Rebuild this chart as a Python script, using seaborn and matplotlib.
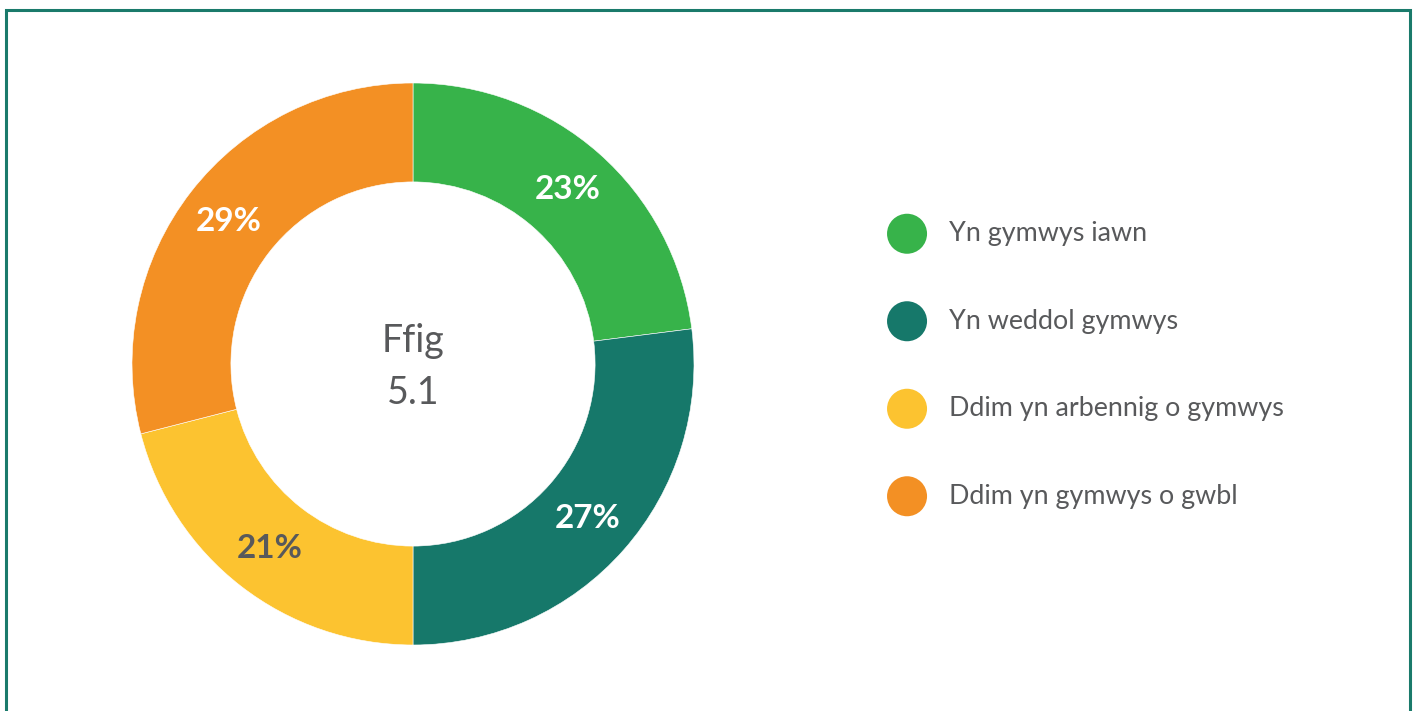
import numpy as np
import pandas as pd
import seaborn as sns
import matplotlib.pyplot as plt
from matplotlib.patches import Rectangle

sns.set_theme(style="white")
plt.rcParams['font.family'] = ['Lato', 'DejaVu Sans']

categories = ['Yn gymwys iawn', 'Yn weddol gymwys',
              'Ddim yn arbennig o gymwys', 'Ddim yn gymwys o gwbl']
values = [23, 27, 21, 29]
colors = ['#37b34a', '#16786a', '#fcc330', '#f39024']
label_colors = ['white', 'white', '#58595b', 'white']
center_text = 'Ffig\n5.1'

df = pd.DataFrame({'category': categories, 'value': values})
palette = sns.color_palette(colors)
grey = '#58595b'

W, H = 1416, 711
fig = plt.figure(figsize=(W / 100, H / 100), dpi=100)

# frame (no bottom edge)
fig.add_artist(Rectangle((6 / W, -0.1), (1410 - 6) / W, (H - 10) / H + 0.1,
                         transform=fig.transFigure, fill=False,
                         edgecolor='#1a7a6b', linewidth=2.2))

# donut
cx, cy, R = 413, 364, 281
ax = fig.add_axes([(cx - R) / W, (H - cy - R) / H, 2 * R / W, 2 * R / H])
wedges, texts, autotexts = ax.pie(df['value'], colors=palette, startangle=90,
                                  counterclock=False, radius=1,
                                  autopct='%.0f%%', pctdistance=0.83,
                                  wedgeprops=dict(width=0.352, edgecolor='white', linewidth=0.4))
for t, c in zip(autotexts, label_colors):
    t.set_color(c)
    t.set_fontsize(24)
    t.set_fontweight('bold')
ax.text(0, -0.01, center_text, ha='center', va='center', fontsize=27,
        color=grey, linespacing=1.55)
ax.set_xlim(-1, 1)
ax.set_ylim(-1, 1)
ax.set_aspect('equal')
ax.axis('off')

# legend
top, bottom = 190, 540
lax = fig.add_axes([880 / W, (H - bottom) / H, 520 / W, (bottom - top) / H])
ypos = np.arange(len(df))
lax.scatter(np.full(len(df), 0.052), ypos, s=830, c=palette, linewidths=0)
for y, lab in zip(ypos, df['category']):
    lax.text(0.133, y, lab, ha='left', va='center', fontsize=19.4, color=grey)
lax.set_xlim(0, 1)
lax.set_ylim(len(df) - 0.5, -0.5)
lax.axis('off')

fig.savefig('out.png', dpi=100)
